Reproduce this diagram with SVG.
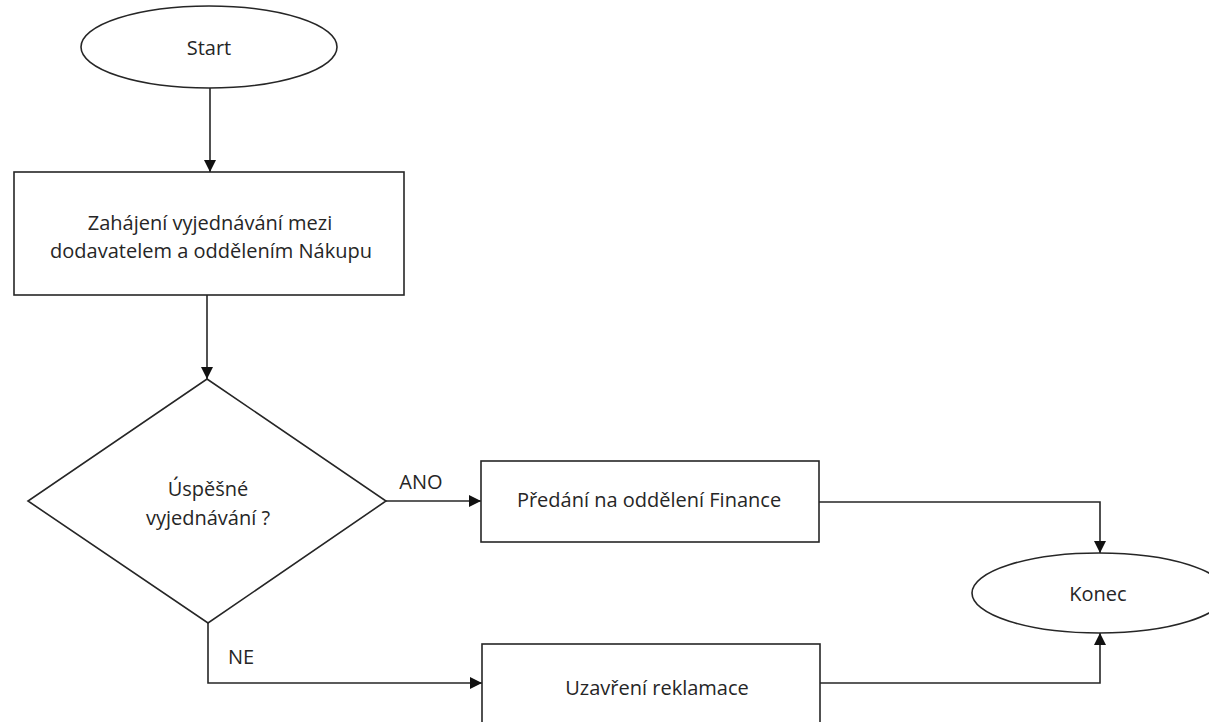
<svg xmlns="http://www.w3.org/2000/svg" width="1209" height="722" viewBox="0 0 1209 722">
  <style>
    .shape { fill: #ffffff; stroke: #262626; stroke-width: 1.6; }
    .conn { fill: none; stroke: #262626; stroke-width: 1.6; }
    .label { font-family: "Open Sans", "Noto Sans", sans-serif; font-size: 20px; fill: #262626; text-anchor: middle; dominant-baseline: central; }
  </style>
  <defs>
    <marker id="arrow" viewBox="0 0 10 10" refX="10" refY="5" markerWidth="7.5" markerHeight="7.5" orient="auto" markerUnits="strokeWidth">
      <path d="M0,0 L10,5 L0,10 Z" fill="#111111"/>
    </marker>
  </defs>
  <rect width="1209" height="722" fill="#ffffff"/>

  <g id="connectors">
    <line class="conn" x1="210" y1="88" x2="210" y2="172" marker-end="url(#arrow)"/>
    <line class="conn" x1="207" y1="295" x2="207" y2="379" marker-end="url(#arrow)"/>
    <line class="conn" x1="386" y1="501" x2="481" y2="501" marker-end="url(#arrow)"/>
    <polyline class="conn" points="208,623 208,683 482,683" marker-end="url(#arrow)"/>
    <polyline class="conn" points="819,502 1100,502 1100,553" marker-end="url(#arrow)"/>
    <polyline class="conn" points="820,683 1100,683 1100,633" marker-end="url(#arrow)"/>
    <text class="label" x="421" y="481">ANO</text>
    <text class="label" x="241" y="656">NE</text>
  </g>

  <g id="start">
    <ellipse class="shape" cx="209" cy="47" rx="128" ry="41"/>
    <text class="label" x="209" y="47">Start</text>
  </g>

  <g id="negotiation">
    <rect class="shape" x="14" y="172" width="390" height="123"/>
    <text class="label" x="210" y="222">Zahájení vyjednávání mezi</text>
    <text class="label" x="211" y="250">dodavatelem a oddělením Nákupu</text>
  </g>

  <g id="decision">
    <polygon class="shape" points="207,379 386,501 208,623 28,501"/>
    <text class="label" x="208" y="488">Úspěšné</text>
    <text class="label" x="208" y="517">vyjednávání ?</text>
  </g>

  <g id="finance">
    <rect class="shape" x="481" y="461" width="338" height="81"/>
    <text class="label" x="649" y="499">Předání na oddělení Finance</text>
  </g>

  <g id="close">
    <rect class="shape" x="482" y="644" width="338" height="81"/>
    <text class="label" x="657" y="687">Uzavření reklamace</text>
  </g>

  <g id="end">
    <ellipse class="shape" cx="1099" cy="593" rx="127" ry="40"/>
    <text class="label" x="1098" y="593">Konec</text>
  </g>
</svg>
